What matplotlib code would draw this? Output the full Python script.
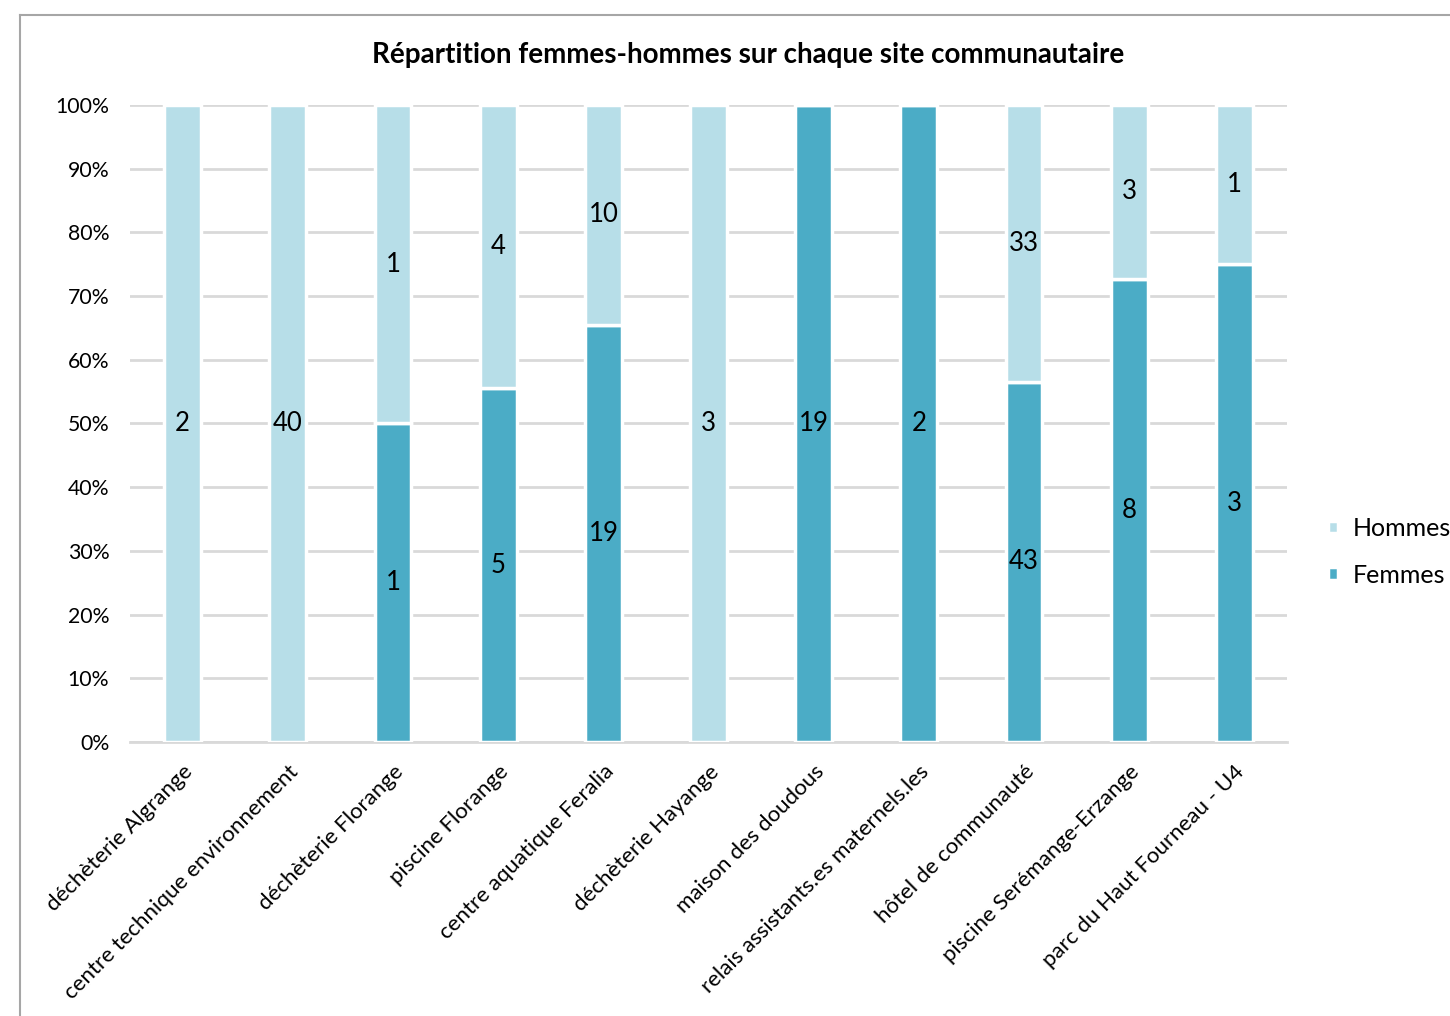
import numpy as np
import matplotlib.pyplot as plt
from matplotlib.lines import Line2D

plt.rcParams['font.family'] = ['Lato', 'DejaVu Sans']

# Data
sites = ["déchèterie Algrange", "centre technique environnement", "déchèterie Florange",
         "piscine Florange", "centre aquatique Feralia", "déchèterie Hayange",
         "maison des doudous", "relais assistants.es maternels.les", "hôtel de communauté",
         "piscine Serémange-Erzange", "parc du Haut Fourneau - U4"]
femmes = np.array([0, 0, 1, 5, 19, 0, 19, 2, 43, 8, 3])
hommes = np.array([2, 40, 1, 4, 10, 3, 0, 0, 33, 3, 1])

total = femmes + hommes
pct_f = femmes / total
pct_h = hommes / total

c_h = "#B7DEE8"
c_f = "#4BACC6"

fig = plt.figure(figsize=(14.5, 10.16), dpi=100)
ax = fig.add_axes([0.0897, 0.2697, 0.7979, 0.627])

x = np.arange(len(sites))
w = 0.35
ax.bar(x, pct_f, w, color=c_f, edgecolor="white", linewidth=2.5, label="Femmes", zorder=3)
ax.bar(x, pct_h, w, bottom=pct_f, color=c_h, edgecolor="white", linewidth=2.5,
       label="Hommes", zorder=3)

# Data labels
for i in range(len(sites)):
    if femmes[i] > 0:
        ax.text(x[i], pct_f[i] / 2, str(femmes[i]), ha="center", va="center",
                fontsize=18.5, color="black", zorder=4)
    if hommes[i] > 0:
        ax.text(x[i], pct_f[i] + pct_h[i] / 2, str(hommes[i]), ha="center", va="center",
                fontsize=18.5, color="black", zorder=4)

ax.set_xlim(-0.5, len(sites) - 0.5)
ax.set_ylim(0, 1)
ax.set_yticks(np.arange(0, 1.01, 0.1))
ax.set_yticklabels([f"{int(round(v * 100))}%" for v in np.arange(0, 1.01, 0.1)], fontsize=15.3)
ax.yaxis.grid(True, color="#D9D9D9", linewidth=2)
ax.set_axisbelow(True)

ax.set_xticks(x)
ax.set_xticklabels(sites, rotation=45, ha="right", rotation_mode="anchor", fontsize=16)
ax.tick_params(axis="both", length=0)
ax.tick_params(axis="x", pad=14)
ax.tick_params(axis="y", pad=15)

for s in ["top", "right", "left"]:
    ax.spines[s].set_visible(False)
ax.spines["bottom"].set_color("#D9D9D9")
ax.spines["bottom"].set_linewidth(2)

fig.text(0.516, 0.946, "Répartition femmes-hommes sur chaque site communautaire",
         ha="center", va="center", fontsize=20, fontweight="bold")

handles, labels = ax.get_legend_handles_labels()
leg = fig.legend(handles[::-1], labels[::-1], loc="center left",
                 bbox_to_anchor=(0.916, 0.457), frameon=False, fontsize=18,
                 handlelength=0.4, handleheight=0.4, handletextpad=0.6, labelspacing=0.95,
                 borderpad=0, borderaxespad=0)

# outer chart border
fig.add_artist(Line2D([0.0138, 0.0138], [0, 0.985], color="#A6A6A6", linewidth=1.5))
fig.add_artist(Line2D([0.0138, 1], [0.985, 0.985], color="#A6A6A6", linewidth=1.5))

plt.savefig("out.png", dpi=100)
